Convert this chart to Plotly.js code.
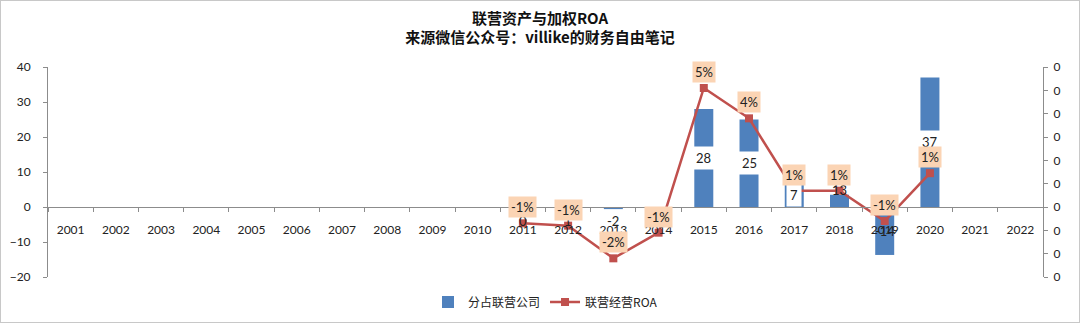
<!DOCTYPE html>
<html>
<head>
<meta charset="utf-8">
<script src="https://cdn.plot.ly/plotly-3.0.1.min.js"></script>
<style>
  html, body { margin: 0; padding: 0; background: #fff; }
  #wrap { position: relative; width: 1080px; height: 323px; }
  #chart { width: 1080px; height: 323px; }
  #frame { position: absolute; left: 0; top: 0; width: 1078px; height: 321px; border: 1px solid #c8c8c8; pointer-events: none; }
</style>
</head>
<body>
<div id="wrap"><div id="chart"></div><div id="frame"></div></div>
<script>
// ---- data ----
const years = ["2001","2002","2003","2004","2005","2006","2007","2008","2009","2010","2011",
               "2012","2013","2014","2015","2016","2017","2018","2019","2020","2021","2022"];
const assocValues = [null,null,null,null,null,null,null,null,null,null,0,
                     0.2,-0.6,0,28,25,7,3.5,-13.7,37,null,null];
const assocLabels = ["","","","","","","","","","","0",
                     "1","-2","","28","25","7","13","-14","37","",""];
const roaValues = [null,null,null,null,null,null,null,null,null,null,-0.007,
                   -0.008,-0.022,-0.011,0.051,0.038,0.007,0.007,-0.006,0.0145,null,null];
const leftTicks = [-20,-10,0,10,20,30,40];
const rightTicks = [-0.03,-0.02,-0.01,0,0.01,0.02,0.03,0.04,0.05,0.06];
const rightTickText = ["0","0","0","0","0","0","0","0","0","0"];

const FONT = "Lato, 'Noto Sans CJK SC', sans-serif";
const CJK = "'Noto Sans CJK SC', sans-serif";

const bars = {
  type: "bar", name: "分占联营公司", x: years, y: assocValues,
  marker: { color: "#4F81BD" }, width: 0.42, yaxis: "y", hoverinfo: "x+y"
};
const line = {
  type: "scatter", mode: "lines+markers", name: "联营经营ROA", x: years, y: roaValues,
  yaxis: "y2", line: { color: "#C0504D", width: 2.5 },
  marker: { color: "#C0504D", symbol: "square", size: 8 }, connectgaps: false
};

function barLabelY(v) {
  if (Math.abs(v) < 1) return -4;
  if (v > 0 && v < 5) return v + 1.5;
  return v / 2;
}

const annotations = [];
years.forEach((yr, i) => {
  const v = assocValues[i];
  if (v === null || assocLabels[i] === "") return;
  const a = {
    x: i, y: barLabelY(v), xref: "x", yref: "y", text: assocLabels[i], showarrow: false,
    font: { family: FONT, size: 13, color: "#222" }, borderpad: 3
  };
  if (v >= 5) { a.bgcolor = "#ffffff"; }
  annotations.push(a);
});
years.forEach((yr, i) => {
  const v = roaValues[i];
  if (v === null) return;
  annotations.push({
    x: i, y: v, xref: "x", yref: "y2", text: Math.round(v * 100) + "%", showarrow: false,
    yshift: 16, font: { family: FONT, size: 13, color: "#222" },
    bgcolor: "#FBD4B4", borderpad: 2
  });
});

const layout = {
  width: 1080, height: 323,
  margin: { l: 48, r: 37, t: 67, b: 46, autoexpand: false },
  paper_bgcolor: "#ffffff", plot_bgcolor: "#ffffff",
  title: {
    text: "<b>联营资产与加权ROA</b><br><b>来源微信公众号：villike的财务自由笔记</b>",
    x: 0.5, xanchor: "center", y: 0.926, yanchor: "middle",
    font: { family: CJK, size: 15, color: "#111" }
  },
  showlegend: true,
  legend: {
    orientation: "h", x: 0.5, xanchor: "center", y: -0.05, yanchor: "top",
    font: { family: CJK, size: 12, color: "#222" }, traceorder: "normal",
    itemwidth: 30
  },
  xaxis: {
    type: "category", range: [-0.5, years.length - 0.5], autorange: false,
    anchor: "free", position: 1/3,
    showline: true, linecolor: "#8c8c8c", linewidth: 1,
    ticks: "outside", ticklen: 4, tickcolor: "#8c8c8c", tickson: "boundaries",
    showgrid: false, zeroline: false, ticklabelstandoff: 12, tickangle: 0,
    tickfont: { family: FONT, size: 12, color: "#222" }
  },
  yaxis: {
    range: [-20, 40], autorange: false, tickmode: "array", tickvals: leftTicks,
    showline: true, linecolor: "#8c8c8c", ticks: "outside", ticklen: 4, tickcolor: "#8c8c8c",
    showgrid: false, zeroline: false, ticklabelstandoff: 10,
    tickfont: { family: FONT, size: 12, color: "#222" }
  },
  yaxis2: {
    overlaying: "y", side: "right", range: [-0.03, 0.06], autorange: false,
    tickmode: "array", tickvals: rightTicks, ticktext: rightTickText,
    showline: true, linecolor: "#8c8c8c", ticks: "outside", ticklen: 4, tickcolor: "#8c8c8c",
    showgrid: false, zeroline: false, ticklabelstandoff: 3,
    tickfont: { family: FONT, size: 12, color: "#222" }
  },
  annotations: annotations
};

Plotly.newPlot("chart", [bars, line], layout, { displayModeBar: false, staticPlot: true });
</script>
</body>
</html>
